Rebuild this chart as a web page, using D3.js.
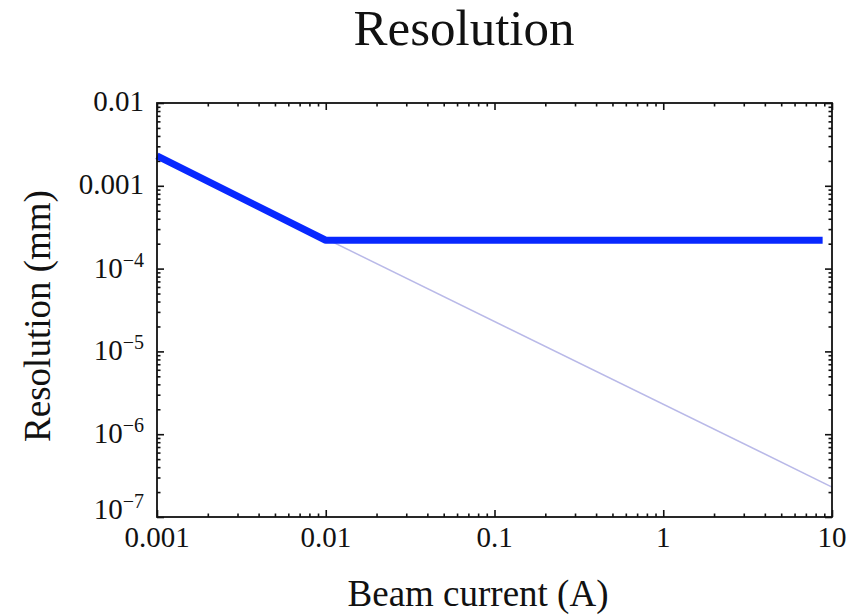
<!DOCTYPE html>
<html>
<head>
<meta charset="utf-8">
<script src="https://cdn.jsdelivr.net/npm/d3@7"></script>
<style>
  body { margin: 0; background: #fff; }
  text { font-family: 'Liberation Serif', 'Times New Roman', serif; fill: #111; }
</style>
</head>
<body>
<div id="svgContainer"></div>
<script>
// data
const currents = [0.001, 0.01, 8.8]
const resolution = [2.3e-3, 2.2e-4, 2.2e-4]
const idealCurrents = [0.001, 10]
const idealResolution = [2.3e-3, 2.3e-7]

const xTicks = [0.001, 0.01, 0.1, 1, 10]
const xTickLabels = ['0.001', '0.01', '0.1', '1', '10']
const yTicks = [1e-7, 1e-6, 1e-5, 1e-4, 1e-3, 1e-2]
const yTickLabels = [['10', '\u22127'], ['10', '\u22126'], ['10', '\u22125'], ['10', '\u22124'], ['0.001', ''], ['0.01', '']]

const width = 861,
  height = 616
const margin = { top: 103, right: 29, bottom: 99, left: 157 }

const svg = d3.select('#svgContainer')
  .append('svg')
  .attr('width', width)
  .attr('height', height)
  .style('background-color', '#fff')

const xScale = d3.scaleLog()
  .domain([0.001, 10])
  .range([margin.left, width - margin.right])

const yScale = d3.scaleLog()
  .domain([1e-7, 1e-2])
  .range([height - margin.bottom, margin.top])

// minor ticks 2..9 per decade
const minorX = []
for (let e = -3; e < 1; e++) for (let k = 2; k < 10; k++) minorX.push(k * Math.pow(10, e))
const minorY = []
for (let e = -7; e < -2; e++) for (let k = 2; k < 10; k++) minorY.push(k * Math.pow(10, e))

const x0 = margin.left, x1 = width - margin.right
const y0 = height - margin.bottom, y1 = margin.top

function drawAxis(axis, transform) {
  const g = svg.append('g')
    .attr('transform', transform)
    .call(axis)
  g.select('.domain').remove()
  g.selectAll('line').attr('stroke', '#111').attr('stroke-width', 1.6)
  g.selectAll('text').remove()
  return g
}

// ticks pointing inward on all four sides
drawAxis(d3.axisBottom(xScale).tickValues(xTicks).tickSize(-7), `translate(0,${y0})`)
drawAxis(d3.axisBottom(xScale).tickValues(minorX).tickSize(-3.5), `translate(0,${y0})`)
drawAxis(d3.axisTop(xScale).tickValues(xTicks).tickSize(-7), `translate(0,${y1})`)
drawAxis(d3.axisTop(xScale).tickValues(minorX).tickSize(-3.5), `translate(0,${y1})`)
drawAxis(d3.axisLeft(yScale).tickValues(yTicks).tickSize(-7), `translate(${x0},0)`)
drawAxis(d3.axisLeft(yScale).tickValues(minorY).tickSize(-3.5), `translate(${x0},0)`)
drawAxis(d3.axisRight(yScale).tickValues(yTicks).tickSize(-7), `translate(${x1},0)`)
drawAxis(d3.axisRight(yScale).tickValues(minorY).tickSize(-3.5), `translate(${x1},0)`)

// lines
const line = d3.line()
  .x(d => xScale(d[0]))
  .y(d => yScale(d[1]))

svg.append('path')
  .datum(idealCurrents.map((c, i) => [c, idealResolution[i]]))
  .attr('d', line)
  .attr('fill', 'none')
  .attr('stroke', 'rgb(185, 185, 232)')
  .attr('stroke-width', 1.5)

svg.append('path')
  .datum(currents.map((c, i) => [c, resolution[i]]))
  .attr('d', line)
  .attr('fill', 'none')
  .attr('stroke', 'rgb(8, 40, 255)')
  .attr('stroke-width', 7)
  .attr('stroke-linejoin', 'bevel')

// frame
svg.append('rect')
  .attr('x', x0)
  .attr('y', y1)
  .attr('width', x1 - x0)
  .attr('height', y0 - y1)
  .attr('fill', 'none')
  .attr('stroke', '#111')
  .attr('stroke-width', 1.8)

// tick labels
svg.selectAll('.xlabel')
  .data(xTicks)
  .enter()
  .append('text')
  .attr('class', 'xlabel')
  .attr('x', d => xScale(d))
  .attr('y', y0 + 30)
  .attr('text-anchor', 'middle')
  .attr('font-size', '29px')
  .text((d, i) => xTickLabels[i])

const yLab = svg.selectAll('.ylabel')
  .data(yTicks)
  .enter()
  .append('text')
  .attr('class', 'ylabel')
  .attr('x', x0 - 13)
  .attr('y', (d, i) => i === 0 ? yScale(d) + 2 : (yTickLabels[i][1] ? yScale(d) + 9 : yScale(d) + 8))
  .attr('text-anchor', 'end')
  .attr('font-size', '29px')

yLab.append('tspan')
  .text((d, i) => yTickLabels[i][0])
yLab.append('tspan')
  .attr('dy', -11)
  .attr('font-size', '20px')
  .text((d, i) => yTickLabels[i][1])

// titles
svg.append('text')
  .attr('x', 464)
  .attr('y', 45)
  .attr('text-anchor', 'middle')
  .attr('font-size', '51px')
  .text('Resolution')

svg.append('text')
  .attr('x', 478)
  .attr('y', 606)
  .attr('text-anchor', 'middle')
  .attr('font-size', '37px')
  .text('Beam current (A)')

svg.append('text')
  .attr('transform', 'translate(50,316) rotate(-90)')
  .attr('text-anchor', 'middle')
  .attr('font-size', '37px')
  .text('Resolution (mm)')
</script>
</body>
</html>
